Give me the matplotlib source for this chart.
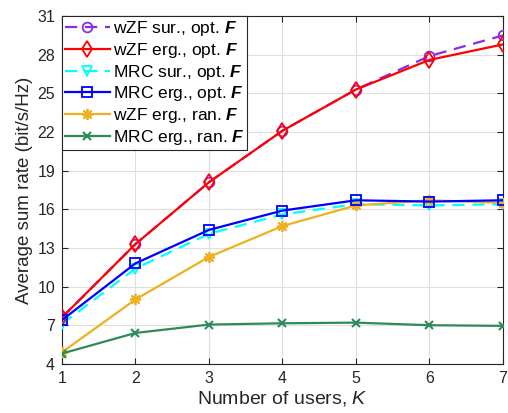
import matplotlib
matplotlib.use("Agg")
import matplotlib.pyplot as plt

plt.rcParams['font.family'] = ['Liberation Sans', 'DejaVu Sans']
plt.rcParams['mathtext.fontset'] = 'custom'
plt.rcParams['mathtext.rm'] = 'Liberation Sans'
plt.rcParams['mathtext.it'] = 'Liberation Sans:italic'
plt.rcParams['mathtext.bf'] = 'Liberation Sans:bold'
plt.rcParams['mathtext.bfit'] = 'Liberation Sans:italic:bold'

K = [1, 2, 3, 4, 5, 6, 7]
wzf_sur_opt = [7.6, 13.3, 18.1, 22.1, 25.3, 27.9, 29.5]
wzf_erg_opt = [7.6, 13.3, 18.1, 22.1, 25.3, 27.6, 28.8]
mrc_sur_opt = [7.1, 11.4, 14.1, 15.6, 16.4, 16.3, 16.4]
mrc_erg_opt = [7.4, 11.8, 14.4, 15.9, 16.7, 16.6, 16.7]
wzf_erg_ran = [4.9, 9.0, 12.3, 14.7, 16.3, 16.7, 16.5]
mrc_erg_ran = [4.8, 6.4, 7.05, 7.15, 7.2, 7.0, 6.95]

labels = [r'wZF sur., opt. $\mathbfit{F}$', r'wZF erg., opt. $\mathbfit{F}$',
          r'MRC sur., opt. $\mathbfit{F}$', r'MRC erg., opt. $\mathbfit{F}$',
          r'wZF erg., ran. $\mathbfit{F}$', r'MRC erg., ran. $\mathbfit{F}$']
yticks = [4, 7, 10, 13, 16, 19, 22, 25, 28, 31]

fig = plt.figure(figsize=(5.08, 4.13), dpi=100)
ax = fig.add_axes([0.122, 0.119, 0.868, 0.842])

asterisk = (8, 2, 0)
ax.plot(K, wzf_sur_opt, '--', color='#8B2BE2', lw=1.6, marker='o', ms=7,
        mfc='none', mew=1.3, dashes=(5.5, 3.5), label=labels[0], zorder=3)
ax.plot(K, wzf_erg_opt, '-', color='#FF0000', lw=1.6, marker='d', ms=8,
        mfc='none', mew=1.3, label=labels[1], zorder=4)
ax.plot(K, mrc_sur_opt, '--', color='#00FFFF', lw=1.6, marker='v', ms=7,
        mfc='none', mew=1.3, dashes=(5.5, 3.5), label=labels[2], zorder=3)
ax.plot(K, mrc_erg_opt, '-', color='#0000FF', lw=1.6, marker='s', ms=7,
        mfc='none', mew=1.3, label=labels[3], zorder=4)
ax.plot(K, wzf_erg_ran, '-', color='#EDB120', lw=1.6, marker=asterisk, ms=8,
        mew=1.3, label=labels[4], zorder=3)
ax.plot(K, mrc_erg_ran, '-', color='#2E8B57', lw=1.6, marker='x', ms=6,
        mew=1.5, label=labels[5], zorder=3)

ax.set_xlim(1, 7)
ax.set_ylim(4, 31)
ax.set_xticks(K)
ax.set_yticks(yticks)
ax.grid(True, color='#DFDFDF', lw=0.8)
ax.set_axisbelow(True)
ax.tick_params(direction='in', top=True, right=True, labelsize=11.5,
               color='#262626', labelcolor='#262626', length=4, pad=5)
for s in ax.spines.values():
    s.set_color('#262626')
    s.set_linewidth(0.8)

ax.set_xlabel(r'Number of users, $K$', fontsize=14, color='#262626', labelpad=2)
ax.set_ylabel('Average sum rate (bit/s/Hz)', fontsize=13.5, color='#262626', labelpad=3)

leg = ax.legend(loc='upper left', borderaxespad=0, fontsize=12.5, handlelength=2.6,
                handletextpad=0.15, labelspacing=0.16, borderpad=0.17,
                fancybox=False, framealpha=1, edgecolor='#262626')
leg.get_frame().set_linewidth(0.8)

fig.savefig('out.png', dpi=100)
